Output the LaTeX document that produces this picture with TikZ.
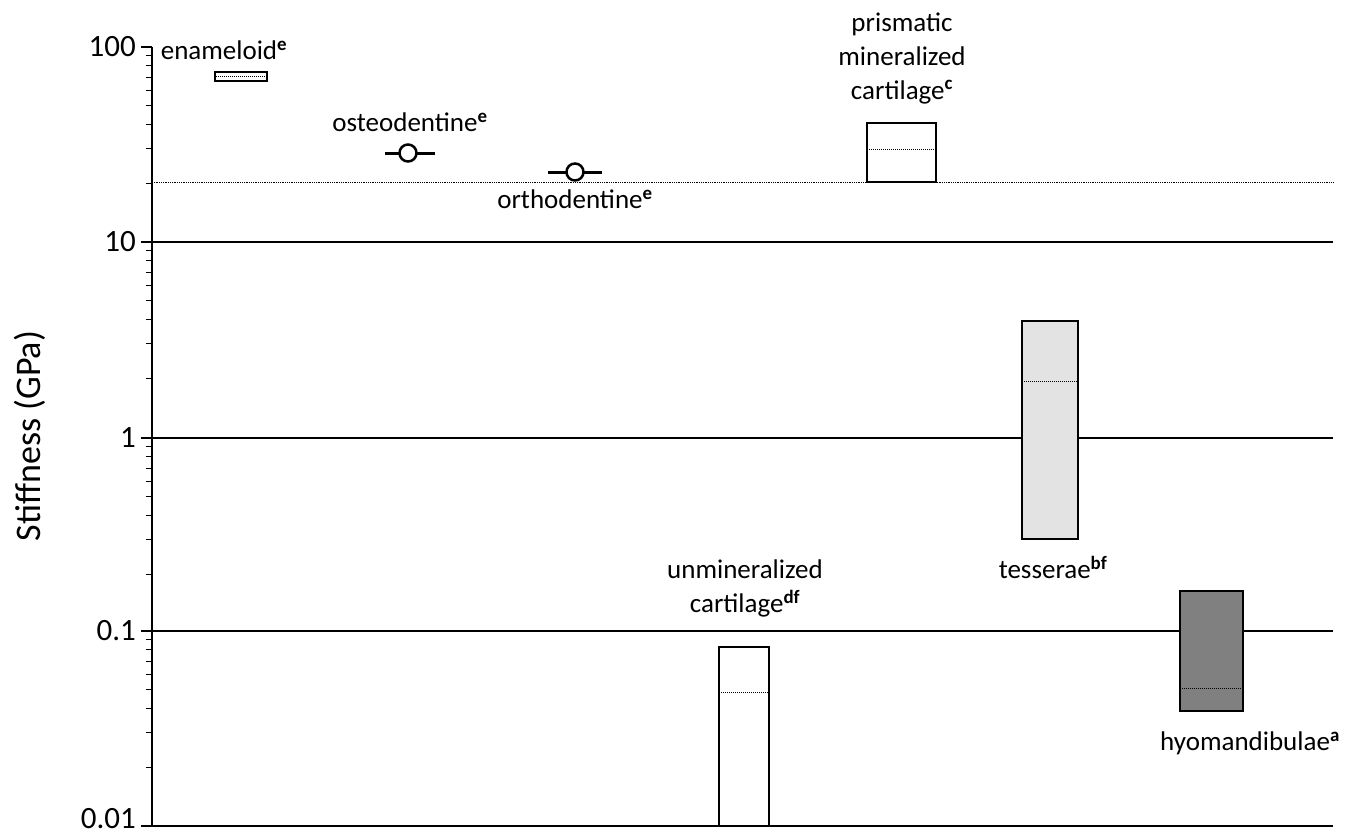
\documentclass[tikz,border=0pt]{standalone}
\usepackage{fontspec}
\setmainfont{Carlito}
\begin{document}
\begin{tikzpicture}[x=1pt,y=-1pt,
  lab/.style={font=\fontsize{27}{30}\selectfont,inner sep=0pt},
  tick/.style={font=\fontsize{31}{34}\selectfont,anchor=east,inner sep=0pt},
  bar/.style={draw,line width=2.2pt},
  med/.style={densely dotted,line width=1pt}]
\useasboundingbox (0,0) rectangle (1363,838);
% grid
\foreach \y in {242,438,631} \draw[line width=1.2pt] (152,\y) -- (1333,\y);
\draw[med,line width=0.8pt] (152,182) -- (1333,182);
% axes
\draw[line width=2.5pt] (152,47) -- (152,826) -- (1333,826);
% ticks
\foreach \d [count=\i from 0] in {47,242,438,631}{
  \draw[line width=1.5pt] (141,\d) -- (152,\d);
  \foreach \m in {2,...,9}{
    \pgfmathsetmacro\yy{\d+195*(1-log10(\m))}
    \draw[line width=1pt] (146,\yy) -- (152,\yy);}
}
\draw[line width=1.5pt] (141,826) -- (152,826);
\node[tick] (t100) at (136,47) {100};
\node[tick] (t10) at (136,242) {10};
\node[tick] (t1) at (136,438) {1};
\node[tick] (t01) at (136,631) {0.1};
\node[tick] (t001) at (136,819) {0.01};
\node[font=\fontsize{36}{40}\selectfont,rotate=90] (ylab) at (30,436) {Stiffness (GPa)};
% enameloid
\node[bar,minimum width=52pt,minimum height=9pt,inner sep=0pt,line width=2pt] (ena) at (241,76.5) {};
\draw[med] (ena.west) -- (ena.east);
\node[lab] (enal) at (224,50) {enameloid\textsuperscript{\textbf{e}}};
% osteodentine
\draw[line width=3pt] (385,153) -- (435,153);
\node[circle,draw,line width=2.5pt,fill=white,minimum size=17pt,inner sep=0pt] (ost) at (408,153) {};
\node[lab] (ostl) at (410,122) {osteodentine\textsuperscript{\textbf{e}}};
% orthodentine
\draw[line width=3pt] (548,172) -- (602,172);
\node[circle,draw,line width=2.5pt,fill=white,minimum size=17pt,inner sep=0pt] (ort) at (575,172) {};
\node[lab] (ortl) at (575,199) {orthodentine\textsuperscript{\textbf{e}}};
% prismatic
\draw[bar,fill=white] (867,123) rectangle (936,182);
\draw[med] (867,149) -- (936,149);
\node[lab,align=center] (pril) at (902,58) {prismatic\\[4pt]mineralized\\[4pt]cartilage\textsuperscript{\textbf{c}}};
% tesserae
\draw[bar,fill=black!11] (1022,321) rectangle (1078,539);
\draw[med] (1022,381) -- (1078,381);
\node[lab] (tesl) at (1053,567) {tesserae\textsuperscript{\textbf{bf}}};
% hyomandibulae
\draw[bar,fill=black!50] (1180,591) rectangle (1243,711);
\draw[med] (1180,688) -- (1243,688);
\node[lab] (hyol) at (1250,743) {hyomandibulae\textsuperscript{\textbf{a}}};
% unmineralized
\draw[bar,fill=white] (719,647) rectangle (769,826);
\draw[med] (719,692) -- (769,692);
\node[lab,align=center] (unml) at (745,588) {unmineralized\\[4pt]cartilage\textsuperscript{\textbf{df}}};
\end{tikzpicture}
\end{document}
